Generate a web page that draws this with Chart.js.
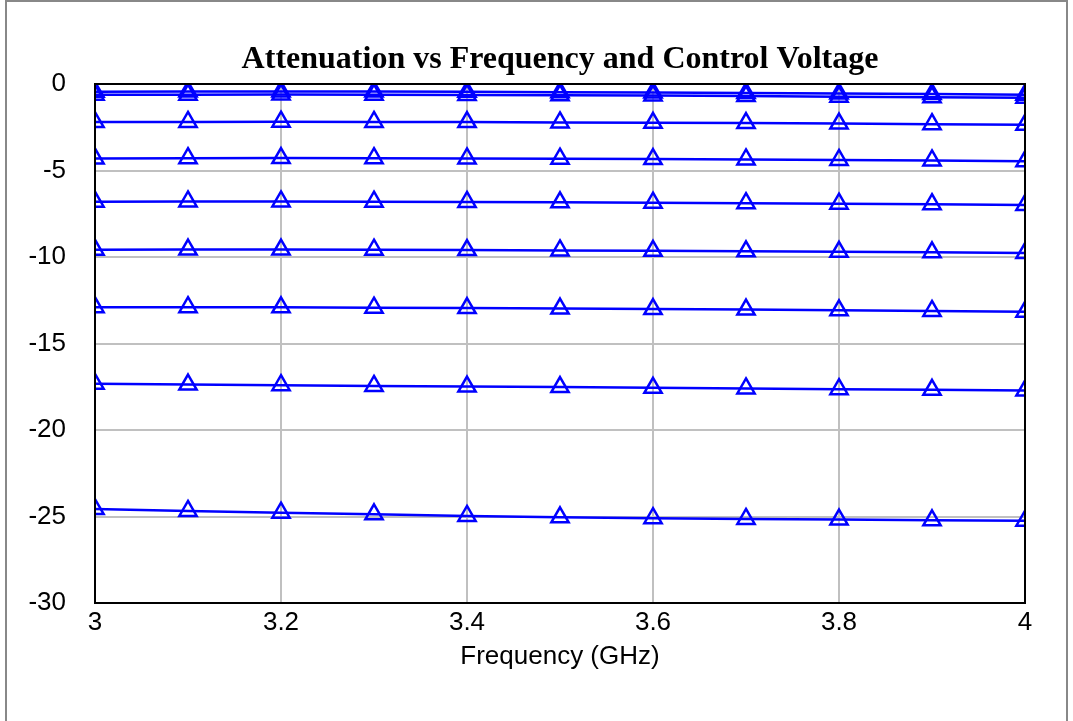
<!DOCTYPE html>
<html>
<head>
<meta charset="utf-8">
<script src="https://cdn.jsdelivr.net/npm/chart.js@4/dist/chart.umd.min.js"></script>
<style>
  html, body { margin: 0; padding: 0; background: #fff; }
  #wrap { width: 1073px; height: 721px; position: relative; }
</style>
</head>
<body>
<div id="wrap"><canvas id="chart" width="1073" height="721"></canvas></div>
<script>
// Attenuation (dB) vs frequency, one curve per control voltage

const freqs = [3.0, 3.1, 3.2, 3.3, 3.4, 3.5, 3.6, 3.7, 3.8, 3.9, 4.0];

const att1 = [-0.45, -0.44, -0.43, -0.44, -0.45, -0.47, -0.49, -0.52, -0.55, -0.58, -0.62];
const att2 = [-0.62, -0.62, -0.61, -0.62, -0.63, -0.65, -0.67, -0.70, -0.73, -0.76, -0.80];
const att3 = [-2.20, -2.19, -2.18, -2.19, -2.20, -2.22, -2.24, -2.26, -2.29, -2.32, -2.36];
const att4 = [-4.30, -4.29, -4.28, -4.29, -4.30, -4.32, -4.34, -4.36, -4.39, -4.42, -4.46];
const att5 = [-6.80, -6.79, -6.79, -6.80, -6.82, -6.84, -6.86, -6.89, -6.92, -6.95, -6.99];
const att6 = [-9.58, -9.57, -9.57, -9.58, -9.60, -9.62, -9.64, -9.67, -9.70, -9.73, -9.77];
const att7 = [-12.90, -12.90, -12.91, -12.93, -12.95, -12.98, -13.01, -13.04, -13.08, -13.12, -13.16];
const att8 = [-17.33, -17.37, -17.41, -17.45, -17.49, -17.52, -17.56, -17.60, -17.64, -17.68, -17.72];
const att9 = [-24.57, -24.68, -24.78, -24.87, -24.97, -25.05, -25.10, -25.14, -25.18, -25.22, -25.24];

const curves = [att1, att2, att3, att4, att5, att6, att7, att8, att9];

const xTicks = [3, 3.2, 3.4, 3.6, 3.8, 4];
const yTicks = [0, -5, -10, -15, -20, -25, -30];

const BLUE = '#0000ff';
const SANS = '"Liberation Sans", Arial, sans-serif';

// plot frame + outer frame
const framePlugin = {
  id: 'frames',
  afterDatasetsDraw(chart) {
    const { ctx, chartArea: a } = chart;
    ctx.save();
    ctx.strokeStyle = '#000';
    ctx.lineWidth = 2;
    ctx.strokeRect(a.left, a.top, a.right - a.left, a.bottom - a.top);
    ctx.strokeStyle = '#888';
    ctx.beginPath();
    ctx.moveTo(6, 721); ctx.lineTo(6, 1); ctx.lineTo(1067, 1); ctx.lineTo(1067, 721);
    ctx.stroke();
    ctx.restore();
  }
};

const datasets = curves.map((vals, i) => ({
  label: 'V' + (i + 1),
  data: freqs.map((f, j) => ({ x: f, y: vals[j] })),
  borderColor: BLUE,
  backgroundColor: 'rgba(0,0,0,0)',
  borderWidth: 2.5,
  pointStyle: 'triangle',
  pointRadius: 10,
  pointBorderWidth: 2.5,
  pointBorderColor: BLUE,
  pointBackgroundColor: 'rgba(0,0,0,0)',
  tension: 0,
}));

new Chart(document.getElementById('chart'), {
  type: 'line',
  data: { datasets },
  plugins: [framePlugin],
  options: {
    responsive: false,
    animation: false,
    layout: { padding: { left: 0, right: 48, top: 0, bottom: 0 } },
    plugins: {
      legend: { display: false },
      tooltip: { enabled: false },
      title: {
        display: true,
        fullSize: false,
        text: 'Attenuation vs Frequency and Control Voltage',
        color: '#000',
        font: { family: '"Liberation Serif", "Times New Roman", serif', size: 32, weight: 'bold', lineHeight: 1.2 },
        padding: { top: 41, bottom: 4.6 },
      },
    },
    scales: {
      x: {
        type: 'linear',
        min: 3, max: 4,
        afterBuildTicks: s => { s.ticks = xTicks.map(v => ({ value: v })); },
        afterFit: s => { s.height = 118; },
        ticks: {
          color: '#000',
          padding: 4,
          font: { family: SANS, size: 26 },
          callback: v => String(v),
        },
        grid: { color: '#c0c0c0', lineWidth: 2, drawTicks: false },
        border: { display: false },
        title: {
          display: true,
          text: 'Frequency (GHz)',
          color: '#000',
          font: { family: SANS, size: 26 },
          padding: { top: 0, bottom: 49 },
        },
      },
      y: {
        type: 'linear',
        min: -30, max: 0,
        afterBuildTicks: s => { s.ticks = yTicks.map(v => ({ value: v })); },
        afterFit: s => { s.width = 95; },
        ticks: {
          color: '#000',
          padding: 29,
          font: { family: SANS, size: 26 },
          callback: v => String(v),
        },
        grid: { color: '#c0c0c0', lineWidth: 2, drawTicks: false },
        border: { display: false },
      },
    },
  },
});
</script>
</body>
</html>
